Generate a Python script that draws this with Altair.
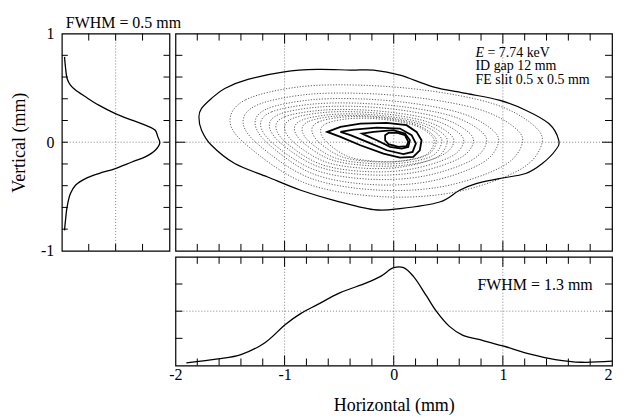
import altair as alt
import pandas as pd

FONT = "Liberation Serif"

# ---------------- data ----------------
# vertical profile (left panel): position (mm) and intensity (a.u.)
vert_pos = [0.786, 0.69, 0.587, 0.525, 0.48, 0.418, 0.341, 0.264, 0.203, 0.157, 0.11, 0.049,
            -0.006, -0.074, -0.135, -0.182, -0.242, -0.288, -0.335, -0.396, -0.473, -0.596, -0.719, -0.811]
vert_int = [0.025, 0.034, 0.049, 0.08, 0.127, 0.22, 0.343, 0.497, 0.651, 0.775, 0.868, 0.892,
            0.91, 0.868, 0.775, 0.651, 0.497, 0.343, 0.22, 0.127, 0.08, 0.049, 0.034, 0.025]

# horizontal profile (bottom panel)
horiz_pos = [-1.90, -1.61, -1.40, -1.18, -0.99, -0.85, -0.70, -0.49, -0.25, -0.12, 0.0, 0.09,
             0.18, 0.30, 0.39, 0.51, 0.63, 0.78, 1.0, 1.27, 1.48, 1.72, 2.0]
horiz_int = [0.025, 0.06, 0.10, 0.21, 0.38, 0.48, 0.56, 0.67, 0.76, 0.82, 0.90, 0.90,
             0.82, 0.64, 0.50, 0.36, 0.28, 0.24, 0.18, 0.10, 0.055, 0.03, 0.04]

# outer solid contour
outer_x = [-1.785, -1.761, -1.670, -1.548, -1.336, -1.003, -0.700, -0.397, -0.185, 0.057, 0.361,
           0.664, 0.966, 1.209, 1.421, 1.512, 1.482, 1.361, 1.209, 0.966, 0.755, 0.603, 0.421,
           0.057, -0.185, -0.548, -0.852, -1.155, -1.457, -1.670, -1.761]
outer_y = [0.233, 0.311, 0.403, 0.495, 0.578, 0.648, 0.670, 0.664, 0.664, 0.618, 0.510,
           0.449, 0.387, 0.295, 0.172, 0.018, -0.074, -0.196, -0.288, -0.335, -0.381, -0.442, -0.550,
           -0.611, -0.620, -0.535, -0.442, -0.320, -0.196, -0.028, 0.111]

# inner solid (thick) contours
inner_a_x = [-0.609, -0.488, -0.306, -0.064, 0.118, 0.209, 0.255, 0.239, 0.179, 0.057, -0.094, -0.306, -0.488]
inner_a_y = [0.095, 0.141, 0.172, 0.178, 0.157, 0.095, 0.018, -0.074, -0.135, -0.141, -0.104, -0.028, 0.049]
inner_b_x = [-0.488, -0.366, -0.155, 0.057, 0.164, 0.203, 0.173, 0.088, -0.064, -0.245, -0.397]
inner_b_y = [0.095, 0.117, 0.135, 0.126, 0.065, -0.012, -0.089, -0.110, -0.074, 0.003, 0.065]
inner_c_x = [-0.291, -0.185, -0.003, 0.103, 0.148, 0.133, 0.073, -0.034, -0.155, -0.261]
inner_c_y = [0.080, 0.095, 0.111, 0.080, 0.018, -0.043, -0.058, -0.043, 0.018, 0.065]
inner_d_x = [-0.079, -0.048, 0.027, 0.103, 0.133, 0.118, 0.043, -0.048, -0.079]
inner_d_y = [0.065, 0.086, 0.089, 0.065, 0.003, -0.037, -0.043, -0.018, 0.018]

# dotted contours (outermost first)
dotted_x = [
    [-1.50, -1.357, -0.871, -0.299, 0.330, 0.902, 1.246, 1.36, 1.160, 0.559, -0.127, -0.814, -1.328],
    [-1.38, -1.252, -0.817, -0.305, 0.258, 0.770, 1.078, 1.18, 1.001, 0.463, -0.151, -0.766, -1.226],
    [-1.27, -1.159, -0.779, -0.333, 0.157, 0.603, 0.871, 0.96, 0.804, 0.336, -0.200, -0.735, -1.136],
    [-1.22, -1.117, -0.765, -0.351, 0.105, 0.519, 0.767, 0.85, 0.705, 0.270, -0.226, -0.723, -1.096],
    [-1.14, -1.047, -0.729, -0.355, 0.057, 0.431, 0.655, 0.73, 0.599, 0.206, -0.242, -0.691, -1.028],
    [-1.08, -0.994, -0.702, -0.358, 0.021, 0.365, 0.571, 0.64, 0.520, 0.158, -0.254, -0.667, -0.977],
    [-1.00, -0.923, -0.659, -0.349, -0.008, 0.302, 0.488, 0.55, 0.442, 0.116, -0.256, -0.628, -0.907],
    [-0.91, -0.840, -0.602, -0.322, -0.014, 0.266, 0.434, 0.49, 0.392, 0.098, -0.238, -0.574, -0.826],
    [-0.84, -0.776, -0.558, -0.302, -0.021, 0.235, 0.389, 0.44, 0.350, 0.082, -0.226, -0.533, -0.763],
    [-0.75, -0.693, -0.499, -0.271, -0.020, 0.208, 0.344, 0.39, 0.310, 0.071, -0.203, -0.476, -0.682],
    [-0.67, -0.618, -0.441, -0.233, -0.004, 0.204, 0.328, 0.37, 0.297, 0.079, -0.171, -0.420, -0.608],
]
dotted_y = [
    [0.19, 0.391, 0.509, 0.525, 0.473, 0.357, 0.184, 0.0, -0.25, -0.46, -0.50, -0.375, -0.043],
    [0.18, 0.342, 0.437, 0.45, 0.405, 0.306, 0.158, 0.0, -0.22, -0.405, -0.44, -0.33, -0.034],
    [0.17, 0.308, 0.388, 0.40, 0.36, 0.272, 0.14, 0.0, -0.195, -0.359, -0.39, -0.293, -0.027],
    [0.16, 0.28, 0.349, 0.36, 0.324, 0.245, 0.126, 0.0, -0.17, -0.313, -0.34, -0.255, -0.02],
    [0.15, 0.258, 0.320, 0.33, 0.297, 0.224, 0.116, 0.0, -0.15, -0.276, -0.30, -0.225, -0.015],
    [0.14, 0.236, 0.291, 0.30, 0.27, 0.204, 0.105, 0.0, -0.135, -0.248, -0.27, -0.203, -0.012],
    [0.13, 0.22, 0.272, 0.28, 0.252, 0.19, 0.098, 0.0, -0.12, -0.221, -0.24, -0.18, -0.009],
    [0.12, 0.204, 0.252, 0.26, 0.234, 0.177, 0.091, 0.0, -0.14, -0.211, -0.215, -0.161, -0.007],
    [0.115, 0.193, 0.238, 0.245, 0.221, 0.167, 0.086, 0.0, -0.127, -0.191, -0.195, -0.146, -0.005],
    [0.11, 0.185, 0.228, 0.235, 0.212, 0.16, 0.082, 0.0, -0.116, -0.174, -0.178, -0.134, -0.003],
    [0.10, 0.172, 0.213, 0.22, 0.198, 0.15, 0.077, 0.0, -0.114, -0.171, -0.175, -0.131, -0.005],
]

# tick positions
pos_minor = [-1.8, -1.6, -1.4, -1.2, -0.8, -0.6, -0.4, -0.2, 0.2, 0.4, 0.6, 0.8, 1.2, 1.4, 1.6, 1.8]
pos_major = [-1, 0, 1]
vert_minor = [-0.8, -0.6, -0.4, -0.2, 0.2, 0.4, 0.6, 0.8]
vert_ticks_left = [-0.8, -0.6, -0.4, -0.2, 0.0, 0.2, 0.4, 0.6, 0.8]
int_ticks = [0.25, 0.5, 0.75]
horiz_labels = [-2, -1, 0, 1, 2]
vert_labels = [-1, 0, 1]

# texts
fwhm_v = "FWHM = 0.5 mm"
fwhm_h = "FWHM = 1.3 mm"
energy_sym = "E"
energy_val = "= 7.74 keV"
gap_text = "ID gap 12 mm"
slit_text = "FE slit 0.5 x 0.5 mm"

# ---------------- layout ----------------
LW, MW = 108, 438
TH, BH = 218, 109

GRID = dict(color="#666666", strokeDash=[1, 2], strokeWidth=0.8)


def text_layer(txt, x, y, size=15, style="normal", align="left"):
    return alt.Chart(pd.DataFrame({"t": [txt]})).mark_text(
        font=FONT, fontSize=size, fontStyle=style, align=align, baseline="alphabetic", color="black"
    ).encode(text="t:N", x=alt.value(x), y=alt.value(y))


def x_ticks(field, scale, axis, vals, h, length):
    d = pd.DataFrame({field: vals})
    b = alt.Chart(d).mark_rule(color="black", strokeWidth=1)
    enc = alt.X(f"{field}:Q", scale=scale, axis=axis)
    return [b.encode(x=enc, y=alt.value(0), y2=alt.value(length)),
            b.encode(x=enc, y=alt.value(h), y2=alt.value(h - length))]


def y_ticks(field, scale, axis, vals, w, length):
    d = pd.DataFrame({field: vals})
    b = alt.Chart(d).mark_rule(color="black", strokeWidth=1)
    enc = alt.Y(f"{field}:Q", scale=scale, axis=axis)
    return [b.encode(y=enc, x=alt.value(0), x2=alt.value(length)),
            b.encode(y=enc, x=alt.value(w), x2=alt.value(w - length))]


def x_grid(field, scale, axis, vals):
    return alt.Chart(pd.DataFrame({field: vals})).mark_rule(**GRID).encode(
        x=alt.X(f"{field}:Q", scale=scale, axis=axis))


def y_grid(field, scale, axis, vals):
    return alt.Chart(pd.DataFrame({field: vals})).mark_rule(**GRID).encode(
        y=alt.Y(f"{field}:Q", scale=scale, axis=axis))


# ---- left panel (vertical profile)
lx_scale = alt.Scale(domain=[0, 1], nice=False, zero=False)
ly_scale = alt.Scale(domain=[-1, 1], nice=False, zero=False)
ly_axis = alt.Axis(values=vert_labels, title="Vertical (mm)", labelExpr="'' + datum.value",
                   domain=False, ticks=False, grid=False, labelPadding=8, titlePadding=12)
vdf = pd.DataFrame({"li": vert_int, "lv": vert_pos})
left_layers = [
    x_grid("li", lx_scale, None, [0.5]),
    y_grid("lv", ly_scale, ly_axis, [0]),
    *x_ticks("li", lx_scale, None, int_ticks, TH, 7),
    *y_ticks("lv", ly_scale, ly_axis, vert_ticks_left, LW, 6),
    alt.Chart(vdf).mark_line(color="black", strokeWidth=1.3, interpolate="catmull-rom").encode(
        x=alt.X("li:Q", scale=lx_scale, axis=None),
        y=alt.Y("lv:Q", scale=ly_scale, axis=ly_axis),
        order=alt.Order("lv:Q", sort="descending")),
    text_layer(fwhm_v, 4, -6, size=16),
]
left = alt.layer(*left_layers).properties(width=LW, height=TH)

# ---- main panel (contours)
mx_scale = alt.Scale(domain=[-2, 2], nice=False, zero=False)
my_scale = alt.Scale(domain=[-1, 1], nice=False, zero=False)

rows_outer, rows_inner, rows_dot = [], [], []
for i, (x, y) in enumerate(zip(outer_x, outer_y)):
    rows_outer.append({"cid": "outer", "o": i, "mh": x, "mv": y})
for name, xs, ys in [("a", inner_a_x, inner_a_y), ("b", inner_b_x, inner_b_y),
                     ("c", inner_c_x, inner_c_y), ("d", inner_d_x, inner_d_y)]:
    for i, (x, y) in enumerate(zip(xs, ys)):
        rows_inner.append({"cid": name, "o": i, "mh": x, "mv": y})
for k, (xs, ys) in enumerate(zip(dotted_x, dotted_y)):
    for i, (x, y) in enumerate(zip(xs, ys)):
        rows_dot.append({"cid": f"d{k}", "o": i, "mh": x, "mv": y})


def contour(rows, **mk):
    return alt.Chart(pd.DataFrame(rows)).mark_line(**mk).encode(
        x=alt.X("mh:Q", scale=mx_scale, axis=None),
        y=alt.Y("mv:Q", scale=my_scale, axis=None),
        detail="cid:N", order="o:Q")


main_layers = [
    x_grid("mh", mx_scale, None, pos_major),
    y_grid("mv", my_scale, None, [0]),
    *x_ticks("mh", mx_scale, None, pos_minor, TH, 7),
    *x_ticks("mh", mx_scale, None, pos_major, TH, 10),
    *y_ticks("mv", my_scale, None, vert_minor, MW, 7),
    *y_ticks("mv", my_scale, None, [0], MW, 10),
    contour(rows_dot, color="#4d4d4d", strokeWidth=0.9, strokeDash=[1.2, 1.6], interpolate="cardinal-closed"),
    contour(rows_outer, color="black", strokeWidth=1.2, interpolate="cardinal-closed"),
    contour(rows_inner, color="black", strokeWidth=1.8, interpolate="linear-closed"),
    text_layer(energy_sym, 301, 23, size=14, style="italic"),
    text_layer(energy_val, 313, 23, size=14),
    text_layer(gap_text, 301, 37, size=14),
    text_layer(slit_text, 301, 51, size=14),
]
main = alt.layer(*main_layers).properties(width=MW, height=TH)

# ---- bottom panel (horizontal profile)
bx_scale = alt.Scale(domain=[-2, 2], nice=False, zero=False)
by_scale = alt.Scale(domain=[0, 1], nice=False, zero=False)
bx_axis = alt.Axis(values=horiz_labels, title="Horizontal (mm)", labelExpr="'' + datum.value",
                   labelAlign={"condition": {"test": "datum.value == 2", "value": "right"}, "value": "center"},
                   domain=False, ticks=False, grid=False, labelPadding=1, titlePadding=14)
hdf = pd.DataFrame({"bh": horiz_pos, "bi": horiz_int})
bottom_layers = [
    x_grid("bh", bx_scale, bx_axis, pos_major),
    y_grid("bi", by_scale, None, [0.5]),
    *x_ticks("bh", bx_scale, bx_axis, pos_minor, BH, 7),
    *x_ticks("bh", bx_scale, bx_axis, pos_major, BH, 10),
    *y_ticks("bi", by_scale, None, int_ticks, MW, 7),
    alt.Chart(hdf).mark_line(color="black", strokeWidth=1.3, interpolate="catmull-rom").encode(
        x=alt.X("bh:Q", scale=bx_scale, axis=bx_axis),
        y=alt.Y("bi:Q", scale=by_scale, axis=None)),
    text_layer(fwhm_h, 303, 33, size=16),
]
bottom = alt.layer(*bottom_layers).properties(width=MW, height=BH)

empty = alt.Chart(pd.DataFrame({"e": [0]})).mark_point(opacity=0).encode(
    x=alt.X("e:Q", axis=None), y=alt.Y("e:Q", axis=None)
).properties(width=LW, height=BH, view=alt.ViewBackground(stroke="transparent"))

chart = alt.concat(left, main, empty, bottom, columns=2, spacing=6, bounds="flush").resolve_scale(
    x="independent", y="independent"
).properties(
    padding={"left": 2, "top": 5, "right": 0, "bottom": 0}, background="white"
).configure_view(
    stroke="black", strokeWidth=1.2
).configure_axis(
    labelFont=FONT, labelFontSize=16, labelColor="black",
    titleFont=FONT, titleFontSize=18, titleFontWeight="normal", titleColor="black"
).configure_text(font=FONT)

chart.save("out.html", embed_options={"renderer": "svg", "actions": False})
